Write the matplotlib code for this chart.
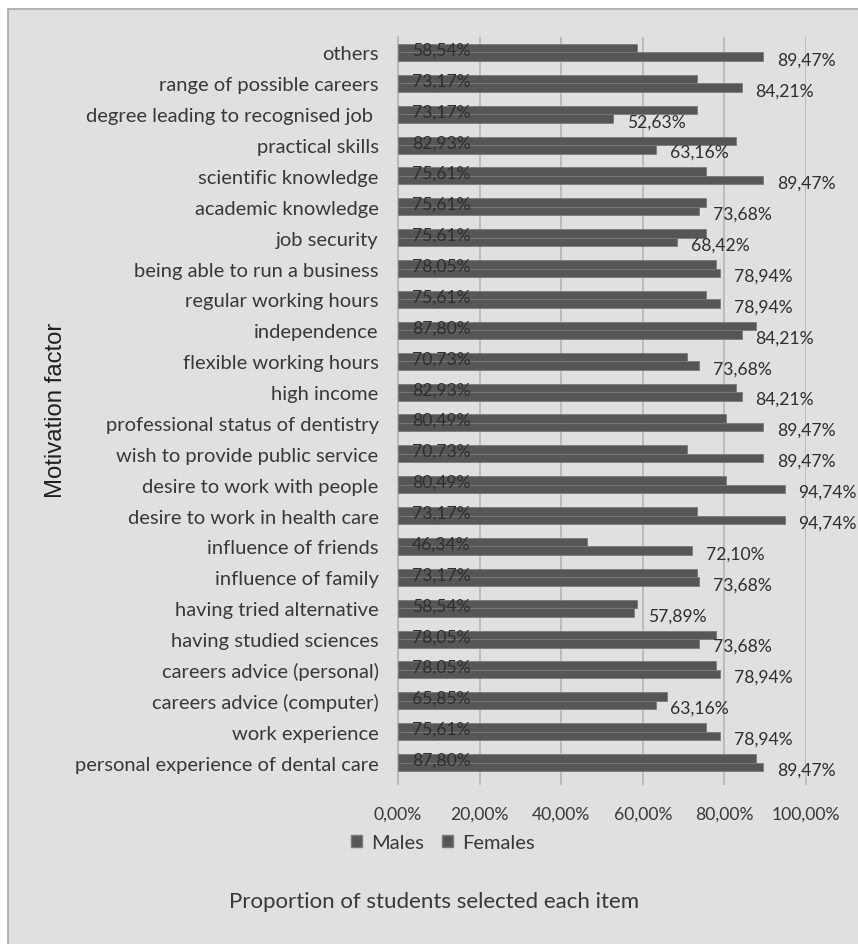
import matplotlib
matplotlib.use("Agg")
import matplotlib.pyplot as plt
from matplotlib.patches import Rectangle, Patch
from matplotlib.ticker import FuncFormatter
from matplotlib.transforms import offset_copy
import numpy as np

categories = [
    "others",
    "range of possible careers",
    "degree leading to recognised job ",
    "practical skills",
    "scientific knowledge",
    "academic knowledge",
    "job security",
    "being able to run a business",
    "regular working hours",
    "independence",
    "flexible working hours",
    "high income",
    "professional status of dentistry",
    "wish to provide public service",
    "desire to work with people",
    "desire to work in health care",
    "influence of friends",
    "influence of family",
    "having tried alternative",
    "having studied sciences",
    "careers advice (personal)",
    "careers advice (computer)",
    "work experience",
    "personal experience of dental care",
]
males = [58.54, 73.17, 73.17, 82.93, 75.61, 75.61, 75.61, 78.05, 75.61, 87.80,
         70.73, 82.93, 80.49, 70.73, 80.49, 73.17, 46.34, 73.17, 58.54, 78.05,
         78.05, 65.85, 75.61, 87.80]
females = [89.47, 84.21, 52.63, 63.16, 89.47, 73.68, 68.42, 78.94, 78.94, 84.21,
           73.68, 84.21, 89.47, 89.47, 94.74, 94.74, 72.10, 73.68, 57.89, 73.68,
           78.94, 63.16, 78.94, 89.47]
xticks = [0, 20, 40, 60, 80, 100]
series_names = ["Males", "Females"]

FONT = "Lato"
FS_CAT = 14.5
FS_NUM = 12.6
TXT = "#383838"
BAR = "#565656"
EDGE = "#7a7a7a"
GRID = "#b4b4b4"

W, H = 858, 945
fig = plt.figure(figsize=(W / 100, H / 100), dpi=100)
fig.patch.set_facecolor("white")
fig.patches.append(Rectangle((8 / W, -0.1), 1, 1.1 - 10 / H, transform=fig.transFigure,
                             facecolor="#e0e0e0", edgecolor="#a8a8a8", linewidth=1.2, zorder=-5))

ax = fig.add_axes([398 / W, 1 - 779 / H, (806 - 398) / W, (779 - 38) / H])
ax.set_facecolor("none")

y = np.arange(len(categories))
h = 0.275
ax.barh(y - h / 2, males, height=h, color=BAR, edgecolor=EDGE, linewidth=0.6, zorder=3)
ax.barh(y + h / 2, females, height=h, color=BAR, edgecolor=EDGE, linewidth=0.6, zorder=3)

ax.set_xlim(0, 100)
ax.set_ylim(len(categories) - 0.5, -0.5)
ax.set_xticks(xticks)
ax.xaxis.set_major_formatter(FuncFormatter(lambda v, p: f"{v:.2f}%".replace(".", ",")))
ax.set_yticks(y)
ax.set_yticklabels(categories)
ax.grid(axis="x", color=GRID, linewidth=1.2, zorder=0)
for s in ["top", "right", "bottom"]:
    ax.spines[s].set_visible(False)
ax.spines["left"].set_color(GRID)
ax.spines["left"].set_linewidth(1.2)
ax.tick_params(axis="x", length=5, width=1.2, color=GRID, pad=15, labelsize=FS_NUM, labelcolor=TXT)
ax.tick_params(axis="y", length=0, pad=14, labelsize=FS_CAT, labelcolor=TXT)
for lab in ax.get_xticklabels() + ax.get_yticklabels():
    lab.set_fontfamily(FONT)

tm = offset_copy(ax.transData, fig=fig, x=10, y=-1, units="points")
tf = offset_copy(ax.transData, fig=fig, x=10, y=-2, units="points")
for i, (m, f) in enumerate(zip(males, females)):
    ax.text(0, i - h / 2, f"{m:.2f}%".replace(".", ","), transform=tm, ha="left", va="center",
            fontsize=FS_NUM, family=FONT, color="#2e2e2e", zorder=4)
    ax.text(f, i + h / 2, f"{f:.2f}%".replace(".", ","), transform=tf, ha="left", va="center",
            fontsize=FS_NUM, family=FONT, color="#2e2e2e", zorder=4)

handles = [Patch(facecolor=BAR, edgecolor=EDGE, label=n) for n in series_names]
fig.legend(handles=handles, loc="center", bbox_to_anchor=(443 / W, 1 - 844 / H), ncol=2,
           frameon=False, handlelength=0.55, handleheight=0.55, handletextpad=0.45, columnspacing=0.9,
           prop={"family": FONT, "size": 14.5}, labelcolor=TXT)

fig.text(434 / W, 1 - 902 / H, "Proportion of students selected each item", ha="center", va="center",
         fontsize=16, family=FONT, color=TXT)
fig.text(56 / W, 1 - 410 / H, "Motivation factor", ha="center", va="center", rotation=90,
         fontsize=17.2, family="Liberation Sans", color="#202020")

fig.savefig("out.png", dpi=100)
